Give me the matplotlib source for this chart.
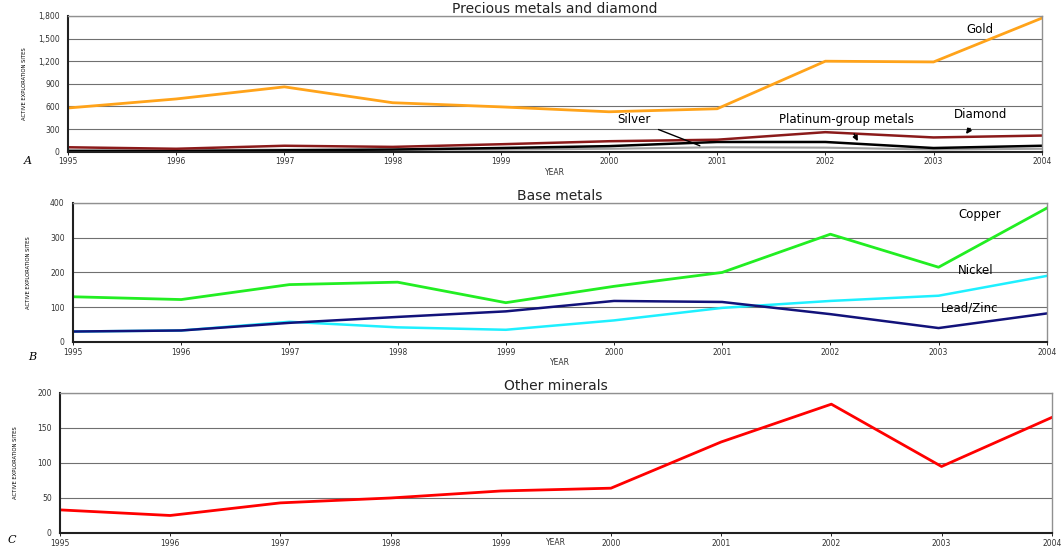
import matplotlib
matplotlib.use("Agg")
import matplotlib.pyplot as plt

plt.rcParams['font.family'] = ['DejaVu Sans']

years = [1995, 1996, 1997, 1998, 1999, 2000, 2001, 2002, 2003, 2004]

# Precious metals and diamond
gold = [580, 700, 860, 650, 595, 530, 570, 1200, 1190, 1770]
diamond = [60, 40, 80, 65, 100, 140, 160, 260, 190, 215]
platinum = [10, 10, 20, 30, 50, 75, 130, 130, 50, 80]
silver = [20, 20, 30, 25, 30, 40, 60, 55, 30, 40]

# Base metals
copper = [130, 122, 165, 172, 113, 160, 200, 310, 215, 385]
nickel = [30, 33, 58, 42, 35, 62, 98, 118, 133, 190]
lead_zinc = [30, 33, 55, 72, 88, 118, 115, 80, 40, 82]

# Other minerals
other = [33, 25, 43, 50, 60, 64, 130, 184, 95, 165]

fig = plt.figure(figsize=(10.63, 5.48), dpi=100)


def style_axes(ax, ymax, step, fmt, title, letter, letter_pos,
               xlabel_pad=1, ylabel_pad=8):
    ax.set_xlim(1995, 2004)
    ax.set_ylim(0, ymax)
    ticks = list(range(0, ymax + 1, step))
    ax.set_yticks(ticks)
    ax.set_yticklabels([fmt(t) for t in ticks])
    ax.set_xticks(years)
    ax.set_xticklabels([str(y) for y in years])
    ax.tick_params(axis='both', labelsize=5.5, length=2, width=0.6, pad=2,
                   labelcolor='#333333')
    ax.tick_params(axis='y', length=0, pad=6)
    ax.yaxis.grid(True, color='#707070', linewidth=0.8)
    ax.set_axisbelow(True)
    for s in ['top', 'right']:
        ax.spines[s].set_color('#909090')
        ax.spines[s].set_linewidth(1.0)
    for s in ['left', 'bottom']:
        ax.spines[s].set_color('#202020')
        ax.spines[s].set_linewidth(1.5)
    ax.set_title(title, fontsize=10, pad=1, color='#222222')
    ax.set_xlabel('YEAR', fontsize=5.5, labelpad=xlabel_pad, color='#333333')
    ax.set_ylabel('ACTIVE EXPLORATION SITES', fontsize=3.8, labelpad=ylabel_pad,
                  family='Liberation Sans Narrow')
    fig.text(letter_pos[0] / 1063, 1 - letter_pos[1] / 548, letter,
             fontsize=8, style='italic', family='DejaVu Serif',
             ha='center', va='center')


axA = fig.add_axes([0.064, 0.723, 0.916, 0.248])
axA.plot(years, silver, color='#a0a0a0', lw=1.5)
axA.plot(years, platinum, color='black', lw=1.8)
axA.plot(years, diamond, color='#8b1a1a', lw=1.8)
axA.plot(years, gold, color='#ffa31a', lw=2)
style_axes(axA, 1800, 300, lambda v: f"{v:,}", 'Precious metals and diamond',
           'A', (28, 161))
axA.text(2003.43, 1614, 'Gold', fontsize=8.5, ha='center', va='center')
axA.annotate('Diamond', xy=(2003.3, 235), xytext=(2003.43, 490),
             fontsize=8.5, ha='center', va='center',
             arrowprops=dict(arrowstyle='-|>', color='black', lw=1.2,
                             mutation_scale=7, shrinkA=4, shrinkB=0))
axA.annotate('Platinum-group metals', xy=(2002.3, 140), xytext=(2002.2, 423),
             fontsize=8.5, ha='center', va='center',
             arrowprops=dict(arrowstyle='-|>', color='black', lw=1.2,
                             mutation_scale=7, shrinkA=4, shrinkB=0))
axA.annotate('Silver', xy=(2000.84, 80), xytext=(2000.23, 423),
             fontsize=8.5, ha='center', va='center',
             arrowprops=dict(arrowstyle='-', color='black', lw=1.0,
                             shrinkA=4, shrinkB=0))

axB = fig.add_axes([0.0687, 0.376, 0.916, 0.2537])
axB.plot(years, nickel, color='#1ef0ff', lw=1.8)
axB.plot(years, lead_zinc, color='#12127a', lw=1.8)
axB.plot(years, copper, color='#22ee22', lw=2)
style_axes(axB, 400, 100, lambda v: str(v), 'Base metals', 'B', (32, 357),
           ylabel_pad=14)
axB.text(2003.38, 368, 'Copper', fontsize=8.5, ha='center', va='center')
axB.text(2003.34, 207, 'Nickel', fontsize=8.5, ha='center', va='center')
axB.text(2003.29, 98, 'Lead/Zinc', fontsize=8.5, ha='center', va='center')

axC = fig.add_axes([0.0564, 0.0274, 0.933, 0.2555])
axC.plot(years, other, color='#ff0000', lw=2)
style_axes(axC, 200, 50, lambda v: str(v), 'Other minerals', 'C', (12, 540),
           xlabel_pad=-7, ylabel_pad=14)

fig.savefig('out.png', dpi=100)
